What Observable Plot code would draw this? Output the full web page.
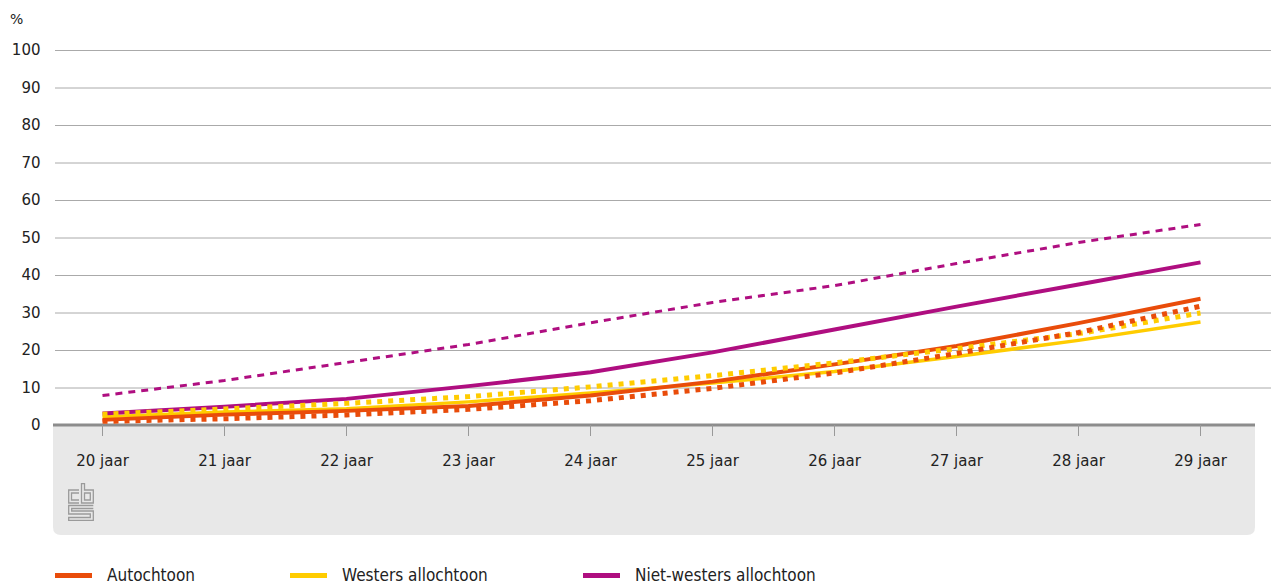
<!DOCTYPE html>
<html><head><meta charset="utf-8">
<script src="https://cdn.jsdelivr.net/npm/d3@7"></script>
<script src="https://cdn.jsdelivr.net/npm/@observablehq/plot@0.6"></script>
<style>
body{margin:0;background:#fff;}
#wrap{position:relative;width:1271px;height:586px;overflow:hidden;}
#pct{position:absolute;left:10px;top:11px;font:14px "DejaVu Sans",sans-serif;color:#222;}
#legend{position:absolute;left:55px;top:565px;font:17px "DejaVu Sans Condensed","Liberation Sans Narrow",sans-serif;color:#222;display:flex;}
.item{display:flex;align-items:center;}
.sw{width:37px;height:5px;margin-right:15px;}
</style></head>
<body><div id="wrap"><div id="pct">%</div><div id="chart"></div><div id="legend"></div></div>
<script>
const ages = ["20 jaar","21 jaar","22 jaar","23 jaar","24 jaar","25 jaar","26 jaar","27 jaar","28 jaar","29 jaar"];
const yTicks = [0,10,20,30,40,50,60,70,80,90,100];
const autoSolid  = [1.5, 2.9, 3.9, 5.2, 8.0, 11.7, 16.3, 21.2, 27.3, 33.8];
const autoDotted = [1.1, 1.8, 2.8, 4.3, 6.6, 9.9, 14.0, 19.2, 24.8, 31.8];
const westSolid  = [2.3, 3.6, 4.5, 6.3, 8.7, 11.3, 14.4, 18.4, 22.7, 27.6];
const westDotted = [3.0, 4.4, 5.9, 7.7, 10.3, 13.3, 16.7, 20.5, 24.5, 30.0];
const nwSolid    = [3.2, 5.0, 7.1, 10.5, 14.2, 19.5, 25.6, 31.7, 37.6, 43.5];
const nwDashed   = [8.0, 12.0, 16.8, 21.6, 27.4, 32.8, 37.3, 43.2, 48.8, 53.6];
const legendNames = ["Autochtoon","Westers allochtoon","Niet-westers allochtoon"];
const colors = ["#e94c0a","#ffcc00","#af0e80"];

const rows = (vals) => vals.map((v,i)=>({age:ages[i], v}));
const lineOpts = (w, dash) => ({x: "age", y: "v", strokeWidth: w, strokeLinecap: "butt", strokeLinejoin: "round", strokeDasharray: dash});

const ML = 55;
const plot = Plot.plot({
  width: 1271, height: 540,
  marginLeft: ML, marginRight: 0, marginTop: 50, marginBottom: 115,
  style: {fontFamily: "DejaVu Sans, sans-serif", fontSize: "15px", color: "#222", background: "transparent"},
  x: {type: "point", domain: ages, padding: 0, insetLeft: 47, insetRight: 71, label: null},
  y: {domain: [0,100], label: null},
  marks: [
    Plot.ruleY(yTicks.filter(d=>d>0), {stroke: "#aaa", strokeWidth: 1}),
    Plot.axisY({ticks: yTicks, tickSize: 0, tickPadding: 15, label: null}),
    Plot.axisX({tickSize: 11, tickPadding: 19, stroke: "#999", label: null}),
    Plot.line(rows(westSolid), {...lineOpts(3.5), stroke: colors[1]}),
    Plot.line(rows(autoSolid), {...lineOpts(4), stroke: colors[0]}),
    Plot.line(rows(nwSolid), {...lineOpts(4), stroke: colors[2]}),
    Plot.line(rows(westDotted), {...lineOpts(5, "5,6"), stroke: colors[1]}),
    Plot.line(rows(autoDotted), {...lineOpts(5, "5,6"), stroke: colors[0]}),
    Plot.line(rows(nwDashed), {...lineOpts(3, "7,6"), stroke: colors[2]})
  ]
});
document.getElementById("chart").appendChild(plot);

// grey band under the x axis with zero line
const svg = d3.select(plot);
const ys = plot.scale("y"), xs = plot.scale("x");
const y0 = ys.apply(0);
const left = ML - 2, right = xs.apply(ages[ages.length-1]) + 55, bottom = 535, r = 8;
svg.insert("rect", ":first-child")
  .attr("x", left).attr("y", y0 - 1.5).attr("width", right - left).attr("height", 3).attr("fill", "#8c8c8c");
svg.insert("path", ":first-child")
  .attr("d", `M${left},${y0} H${right} V${bottom - r} Q${right},${bottom} ${right - r},${bottom} H${left + r} Q${left},${bottom} ${left},${bottom - r} Z`)
  .attr("fill", "#e8e8e8");
svg.selectAll("g[aria-label='x-axis tick label'] text").attr("fill", "#222");

// cbs logo
const g = svg.append("g").attr("transform", "translate(68,483)").attr("fill", "none").attr("stroke", "#9a9a9a").attr("stroke-width", 1.3);
g.append("path").attr("d", "M11,7 H0.7 V20 H11 M11,10 H3.5 V17 H11");
g.append("path").attr("d", "M13.5,0.7 V20 H25.3 V7 H16.5 V0.7 Z M16.5,10 H22.3 V17 H16.5 Z");
g.append("path").attr("d", "M25.3,22.5 H0.7 V31 H22.3 V34.5 H0.7 V37.3 H25.3 V28 H3.7 V25.5 H25.3");

// legend
const lg = d3.select("#legend");
const widths = [235, 293, 300];
legendNames.forEach((n,i)=>{
  const it = lg.append("div").attr("class","item").style("width", widths[i]+"px");
  it.append("div").attr("class","sw").style("background", colors[i]);
  it.append("span").text(n);
});
</script></body></html>
